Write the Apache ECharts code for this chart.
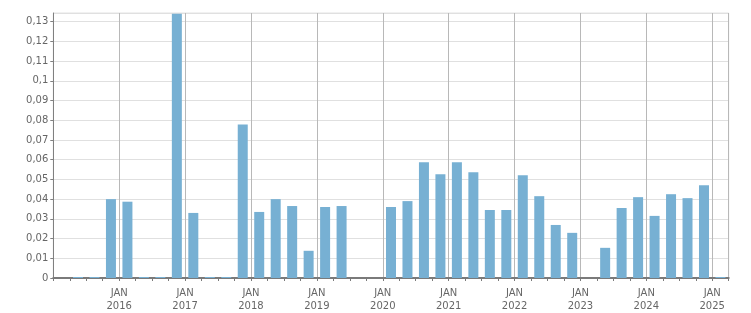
<!DOCTYPE html>
<html><head><meta charset="utf-8">
<script src="https://cdn.jsdelivr.net/npm/echarts@6/dist/echarts.min.js"></script>
<style>html,body{margin:0;padding:0;background:#fff}#c{width:751px;height:313px}</style>
</head><body><div id="c"></div>
<script>
const quarters = [
  '2015 Q1','2015 Q2','2015 Q3','2015 Q4',
  '2016 Q1','2016 Q2','2016 Q3','2016 Q4',
  '2017 Q1','2017 Q2','2017 Q3','2017 Q4',
  '2018 Q1','2018 Q2','2018 Q3','2018 Q4',
  '2019 Q1','2019 Q2','2019 Q3','2019 Q4',
  '2020 Q1','2020 Q2','2020 Q3','2020 Q4',
  '2021 Q1','2021 Q2','2021 Q3','2021 Q4',
  '2022 Q1','2022 Q2','2022 Q3','2022 Q4',
  '2023 Q1','2023 Q2','2023 Q3','2023 Q4',
  '2024 Q1','2024 Q2','2024 Q3','2024 Q4',
  '2025 Q1'
];
const values = [
  null, 0, 0, 0.0400,
  0.0387, 0, 0, 0.1340,
  0.0330, 0, 0, 0.0779,
  0.0335, 0.0400, 0.0365, 0.0138,
  0.0360, 0.0365, null, null,
  0.0360, 0.0390, 0.0587, 0.0526,
  0.0587, 0.0536, 0.0345, 0.0345,
  0.0521, 0.0415, 0.0269, 0.0229,
  null, 0.0153, 0.0355, 0.0410,
  0.0315, 0.0425, 0.0405, 0.0471,
  0
];
const yMin = 0, yMax = 0.1344, yStep = 0.01;

const chart = echarts.init(document.getElementById('c'), null, {renderer: 'canvas'});
const font = 'DejaVu Sans';
chart.setOption({
  animation: false,
  backgroundColor: '#fff',
  grid: {left: 53.3, right: 22.3, top: 13, bottom: 33.7, show: true, borderColor: '#e2e2e2', borderWidth: 1},
  xAxis: {
    type: 'category',
    data: quarters,
    boundaryGap: true,
    axisLine: {lineStyle: {color: '#7a7a7a', width: 2}},
    axisTick: {show: true, interval: 0, length: 3, lineStyle: {color: '#7a7a7a'}},
    splitLine: {show: true, interval: function (i) { return i > 0 && i % 4 === 0; }, lineStyle: {color: '#b8b8b8', width: 1}},
    axisLabel: {
      interval: function (i) { return i > 0 && i % 4 === 0; },
      formatter: function (v) { return 'JAN\n' + v.slice(0, 4); },
      fontFamily: font, fontSize: 10, color: '#666', lineHeight: 13,
      margin: 9, padding: [0, 16.47, 0, 0], align: 'center', hideOverlap: false
    }
  },
  yAxis: {
    type: 'value', min: yMin, max: yMax, interval: yStep,
    axisLine: {show: true, lineStyle: {color: '#808080', width: 1}},
    axisTick: {show: true, length: 3, lineStyle: {color: '#808080'}},
    splitLine: {show: true, lineStyle: {color: '#e0e0e0', width: 1}},
    axisLabel: {
      fontFamily: font, fontSize: 10, color: '#666', margin: 5, showMaxLabel: false,
      formatter: function (v) {
        const k = Math.round(v / yStep);
        if (Math.abs(v / yStep - k) > 1e-6) return '';
        if (k === 0) return '0';
        return String(+(k * yStep).toFixed(2)).replace('.', ',');
      }
    }
  },
  series: [{
    type: 'bar',
    data: values,
    barWidth: 10,
    barMinHeight: 1,
    itemStyle: {color: '#77b0d3'},
    clip: true
  }]
});
</script></body></html>
